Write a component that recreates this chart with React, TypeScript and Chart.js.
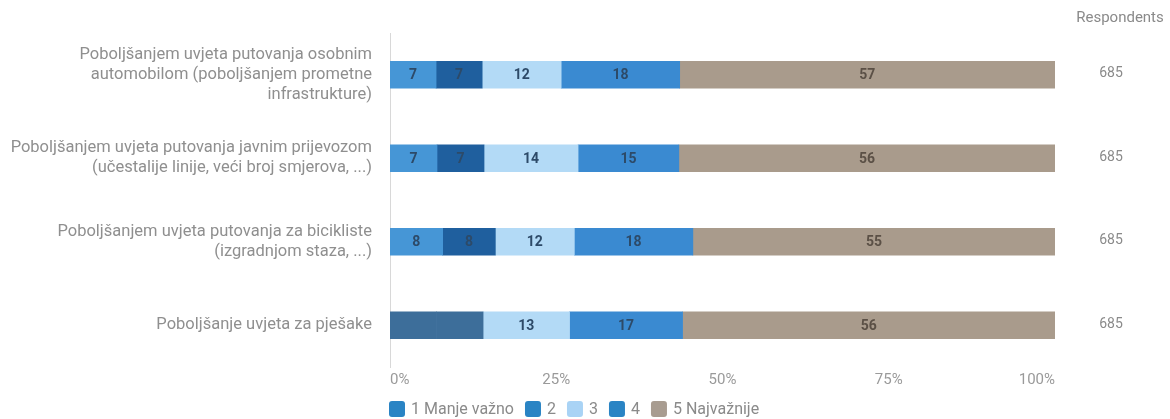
import React, { useEffect, useRef } from "react";
import { Chart, registerables } from "chart.js";

Chart.register(...registerables);

const categories: string[][] = [
  ["Poboljšanjem uvjeta putovanja osobnim", "automobilom (poboljšanjem prometne", "infrastrukture)"],
  ["Poboljšanjem uvjeta putovanja javnim prijevozom", "(učestalije linije, veći broj smjerova, ...)"],
  ["Poboljšanjem uvjeta putovanja za bicikliste", "(izgradnjom staza, ...)"],
  ["Poboljšanje uvjeta za pješake"],
];

const seriesNames = ["1 Manje važno", "2", "3", "4", "5 Najvažnije"];
const s1 = [7, 7, 8, 7];
const s2 = [7, 7, 8, 7];
const s3 = [12, 14, 12, 13];
const s4 = [18, 15, 18, 17];
const s5 = [57, 56, 55, 56];
const respondents = [685, 685, 685, 685];
const xTicks = [0, 25, 50, 75, 100];

const seriesColors = ["#4696d6", "#1f5f9e", "#b3daf6", "#3a8ad1", "#a99b8c"];
const legendColors = ["#2a84c4", "#2a84c4", "#a9d3f5", "#2a84c4", "#a89c90"];
const mergedColor = "#3d6e9a";
const hiddenLabelRow = 3;

export default function App() {
  const ref = useRef<HTMLCanvasElement>(null);
  useEffect(() => {
    const raw = [s1, s2, s3, s4, s5];
    const sums = categories.map((_, i) => raw.reduce((a, s) => a + s[i], 0));
    const datasets = raw.map((vals, k) => ({
      label: seriesNames[k],
      data: vals.map((v, i) => (v / sums[i]) * 100),
      rawValues: vals,
      backgroundColor: vals.map((_, i) => (i === hiddenLabelRow && k < 2 ? mergedColor : seriesColors[k])),
      borderWidth: 0,
      barThickness: 27,
    }));

    const labelsPlugin = {
      id: "segLabels",
      afterDatasetsDraw(chart: any) {
        const ctx = chart.ctx;
        ctx.save();
        ctx.font = "bold 14px Roboto";
        ctx.textAlign = "center";
        ctx.textBaseline = "middle";
        chart.data.datasets.forEach((ds: any, k: number) => {
          const meta = chart.getDatasetMeta(k);
          meta.data.forEach((el: any, i: number) => {
            if (i === hiddenLabelRow && k < 2) return;
            const v = ds.rawValues[i];
            ctx.fillStyle = k === 4 ? "#5b5046" : "#2d4a68";
            ctx.fillText(String(v), (el.x + el.base) / 2, el.y + 1);
          });
        });
        ctx.restore();
      },
      afterDraw(chart: any) {
        const ctx = chart.ctx;
        const y = chart.scales.y;
        ctx.save();
        ctx.fillStyle = "#8a8a8a";
        ctx.textAlign = "center";
        ctx.textBaseline = "middle";
        ctx.font = "15px Roboto";
        ctx.fillText("Respondents", 1120, 18);
        ctx.font = "14px Roboto";
        respondents.forEach((r, i) => {
          ctx.fillText(String(r), 1111, y.getPixelForValue(i) - 1);
        });
        // legend
        ctx.font = "16px Roboto";
        ctx.textAlign = "left";
        let x = chart.chartArea.left - 1;
        const ly = 409;
        seriesNames.forEach((n, k) => {
          ctx.fillStyle = legendColors[k];
          ctx.beginPath();
          (ctx as any).roundRect(x, ly - 8, 16, 16, 3);
          ctx.fill();
          ctx.fillStyle = "#8a8a8a";
          ctx.fillText(n, x + 22, ly + 1);
          x += 22 + ctx.measureText(n).width + 11;
        });
        ctx.restore();
      },
    };

    const chart = new Chart(ref.current!, {
      type: "bar",
      data: { labels: categories, datasets: datasets as any },
      options: {
        indexAxis: "y",
        animation: false,
        responsive: false,
        maintainAspectRatio: false,
        layout: { padding: { top: 33, right: 115, left: 0, bottom: 25 } },
        scales: {
          x: {
            stacked: true,
            min: 0,
            max: 100,
            afterBuildTicks: (s: any) => {
              s.ticks = xTicks.map((v) => ({ value: v }));
            },
            grid: { display: false, drawTicks: false },
            border: { display: false },
            ticks: {
              padding: 6,
              align: "inner",
              color: "#9a9a9a",
              font: { size: 15, family: "Roboto", lineHeight: 1 },
              callback: (v: any) => v + "%",
            },
          },
          y: {
            stacked: true,
            afterFit: (s: any) => {
              s.width = 390;
            },
            grid: { display: false, drawTicks: false },
            border: { display: true, color: "#d8d8d8", width: 1 },
            ticks: {
              padding: 18,
              color: "#8f8f8f",
              font: { size: 16.5, family: "Roboto", lineHeight: 1.22 },
            },
          },
        },
        plugins: {
          tooltip: { enabled: false },
          legend: { display: false },
        },
      },
      plugins: [labelsPlugin],
    });
    return () => chart.destroy();
  }, []);

  return (
    <div style={{ position: "fixed", left: 0, top: 0, width: 1170, height: 419, background: "#fff" }}>
      <canvas ref={ref} width={1170} height={419} style={{ width: 1170, height: 419 }} />
    </div>
  );
}
